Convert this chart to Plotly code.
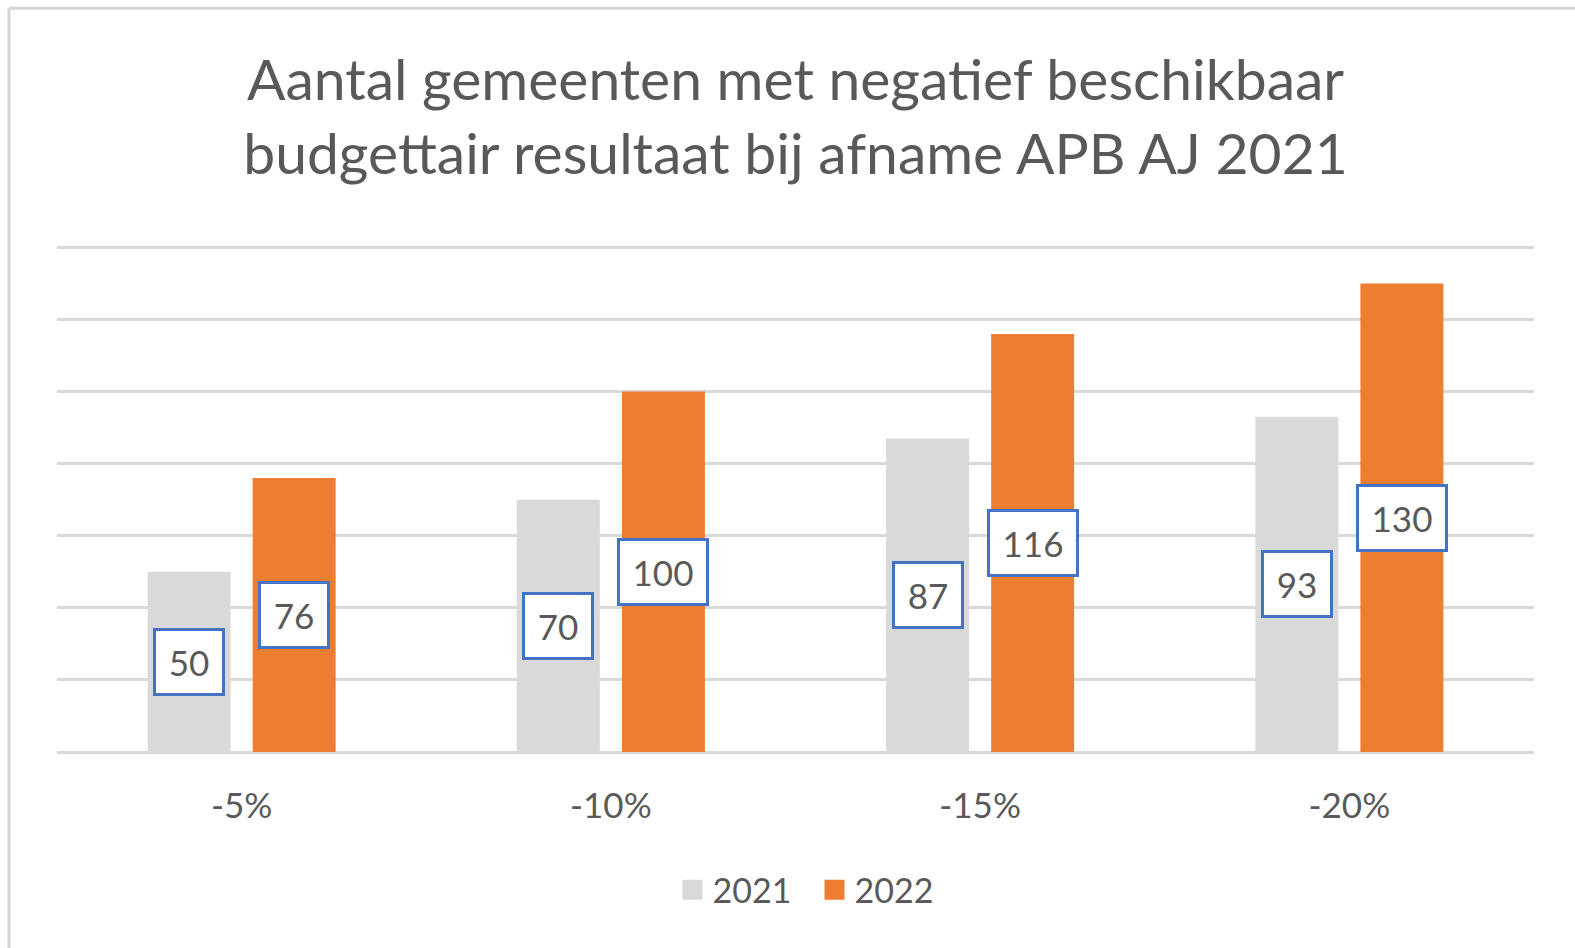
import plotly.graph_objects as go

categories = ["-5%", "-10%", "-15%", "-20%"]
series_names = ["2021", "2022"]
values_2021 = [50, 70, 87, 93]
values_2022 = [76, 100, 116, 130]
title_lines = ["Aantal gemeenten met negatief beschikbaar", "budgettair resultaat bij afname APB AJ 2021"]

FONT = "Lato, 'Noto Sans', sans-serif"
TXT = "#595959"
GRID = "#D9D9D9"
colors = ["#D9D9D9", "#ED7D31"]

fig = go.Figure()
for name, vals, col in zip(series_names, [values_2021, values_2022], colors):
    fig.add_trace(go.Bar(x=categories, y=vals, name=name, legendgroup=name, showlegend=False,
                         marker=dict(color=col, line=dict(width=0))))
# legend entries with larger square swatches
for name, col in zip(series_names, colors):
    fig.add_trace(go.Scatter(x=[None], y=[None], name=name, legendgroup=name, mode="markers",
                             marker=dict(symbol="square", size=16, color=col,
                                         line=dict(color=col, width=4)),
                             hoverinfo="skip"))

shift = 52.5
for vals, sgn in zip([values_2021, values_2022], [-1, 1]):
    for c, v in zip(categories, vals):
        t = str(v)
        fig.add_annotation(x=c, y=v / 2, xref="x", yref="y", text=t, showarrow=False,
                           xshift=sgn * shift, font=dict(family=FONT, size=35, color=TXT),
                           bgcolor="white", bordercolor="#4472C4", borderwidth=3, borderpad=5,
                           width=20 * len(t) + 16, height=52, align="center", valign="middle")

# outer frame (top and left edges visible)
fig.add_shape(type="line", xref="paper", yref="paper", x0=-0.0325, x1=1.03, y0=1.47, y1=1.47,
              line=dict(color="#D4D4D4", width=3))
fig.add_shape(type="line", xref="paper", yref="paper", x0=-0.0325, x1=-0.0325, y0=1.47, y1=-0.4,
              line=dict(color="#D4D4D4", width=3))

fig.update_layout(
    width=1575, height=948,
    paper_bgcolor="white", plot_bgcolor="white",
    margin=dict(l=57, r=41, t=246, b=196),
    barmode="group", bargap=0.431, bargroupgap=0.21,
    title=dict(text="<br>".join(title_lines), x=0.5, xanchor="center", xref="paper",
               y=1 - 100 / 948, yanchor="top",
               font=dict(family=FONT, size=57, color=TXT)),
    font=dict(family=FONT, color=TXT),
    showlegend=True,
    legend=dict(orientation="h", x=0.5 + 19 / 1477, xanchor="center", y=-0.273, yanchor="middle",
                font=dict(family=FONT, size=34, color=TXT), traceorder="normal",
                itemsizing="trace", entrywidth=97, entrywidthmode="pixels"),
)
fig.update_xaxes(showgrid=False, showline=False, ticks="", ticklabelstandoff=30,
                 tickfont=dict(family=FONT, size=35, color=TXT))
fig.update_yaxes(range=[0, 140.4], dtick=20, showticklabels=False, showgrid=True,
                 gridcolor=GRID, gridwidth=2.5, zeroline=True, zerolinecolor=GRID, zerolinewidth=2.5)

fig.write_html("out.html", config={"displayModeBar": False},
               post_script="document.body.style.margin='0';document.body.style.padding='0';")
